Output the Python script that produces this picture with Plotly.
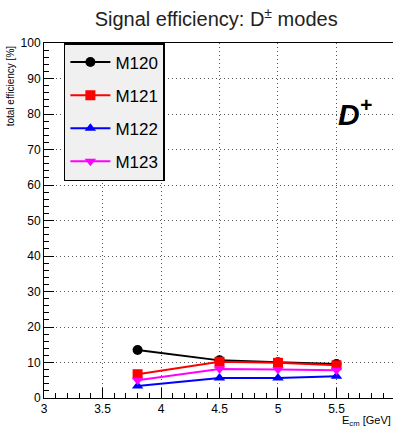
import plotly.graph_objects as go

energies = [3.8, 4.5, 5.0, 5.5]
series_names = ["M120", "M121", "M122", "M123"]
eff_m120 = [13.5, 10.6, 10.1, 9.6]
eff_m121 = [6.7, 10.2, 9.9, 9.2]
eff_m122 = [3.4, 5.6, 5.6, 6.1]
eff_m123 = [5.0, 8.2, 8.0, 7.8]
x_ticks = [3, 3.5, 4, 4.5, 5, 5.5, 6]
y_ticks = [0, 10, 20, 30, 40, 50, 60, 70, 80, 90, 100]

colors = ["black", "red", "blue", "magenta"]
symbols = ["circle", "square", "triangle-up", "triangle-down"]
values = [eff_m120, eff_m121, eff_m122, eff_m123]

fig = go.Figure()
for name, vals, c, s in zip(series_names, values, colors, symbols):
    fig.add_trace(go.Scatter(
        x=energies, y=vals, name=name, mode="lines+markers",
        legendgroup=name,
        line=dict(color=c, width=2),
        marker=dict(color=c, symbol=s, size=10),
    ))

fig.update_layout(
    width=393, height=428,
    margin=dict(l=44, r=0, t=43, b=30),
    plot_bgcolor="white", paper_bgcolor="white",
    font=dict(family="Liberation Sans, Arial, sans-serif", color="black"),
    title=dict(text="Signal efficiency: D<sup>±</sup> modes", x=0.55, xanchor="center",
               y=0.955, yanchor="middle", font=dict(size=20, color="#222")),
    showlegend=True,
    legend=dict(x=0.057, y=1.0, xanchor="left", yanchor="top",
                bgcolor="#f0f0f0", bordercolor="black", borderwidth=1.5,
                font=dict(size=17), itemwidth=40, tracegroupgap=8),
    xaxis=dict(range=[3, 5.983], tickvals=x_ticks, ticktext=[str(t) for t in x_ticks],
               ticks="inside", ticklen=10, tickwidth=1, tickcolor="black",
               showline=True, linecolor="black", linewidth=1, mirror=True,
               showgrid=True, gridcolor="#555", griddash="1px,3px", gridwidth=1,
               tickfont=dict(size=12), zeroline=False,
               minor=dict(dtick=0.1, ticks="inside", ticklen=5, tickcolor="black", showgrid=False)),
    yaxis=dict(range=[0, 100], tickvals=y_ticks,
               ticks="inside", ticklen=10, tickwidth=1, tickcolor="black",
               showline=True, linecolor="black", linewidth=1, mirror=True,
               showgrid=True, gridcolor="#555", griddash="1px,3px", gridwidth=1,
               tickfont=dict(size=12), zeroline=False,
               minor=dict(dtick=2, ticks="inside", ticklen=5, tickcolor="black", showgrid=False)),
)

fig.add_annotation(text="total efficiency [%]", xref="paper", yref="paper",
                   x=-0.095, y=1.0, xanchor="center", yanchor="top", textangle=-90,
                   showarrow=False, font=dict(size=10))
fig.add_annotation(text="E<sub>cm</sub> [GeV]", xref="paper", yref="paper",
                   x=1.0, y=-0.066, xanchor="right", yanchor="middle",
                   showarrow=False, font=dict(size=11))
fig.add_annotation(text="<b><i>D<sup>+</sup></i></b>", xref="x", yref="y",
                   x=5.66, y=80.5, xanchor="center", yanchor="middle",
                   showarrow=False, font=dict(size=30, family="Liberation Sans, Arial"))

fig.write_html("out.html")
